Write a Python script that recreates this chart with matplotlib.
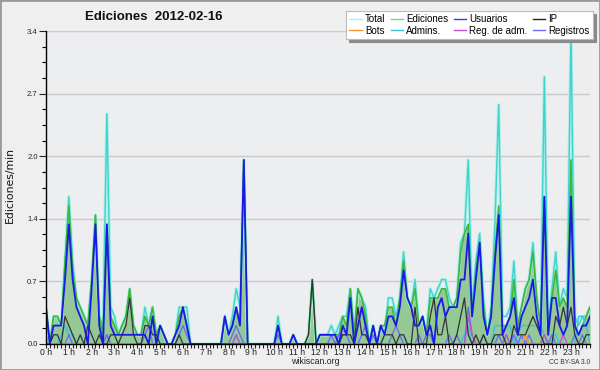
import matplotlib
matplotlib.use('Agg')
import matplotlib.pyplot as plt
from matplotlib.lines import Line2D
from matplotlib.patches import Rectangle
import numpy as np

hour_labels = [f"{h} h" for h in range(24)]
y_tick_labels = ["0.0", "0.7", "1.4", "2.0", "2.7", "3.4"]
series_names = ["Total", "Bots", "Ediciones", "Admins.", "Usuarios", "Reg. de adm.", "IP", "Registros"]

# values per 10-minute bin (6 per hour), 144 bins
total = [0.4, 0, 0.3, 0.3, 0.2, 0.9,   1.6, 0.9, 0.5, 0.4, 0.3, 0.2,
         0.7, 1.4, 0.3, 0.2, 2.5, 0.4, 0.3, 0.1, 0.2, 0.3, 0.6, 0.2,
         0.1, 0.1, 0.4, 0.2, 0.4, 0.1, 0.2, 0.1, 0, 0, 0.1, 0.4,
         0.4, 0.4, 0, 0, 0, 0, 0, 0, 0, 0, 0, 0.3,
         0.1, 0.3, 0.6, 0.4, 2.0, 0, 0, 0, 0, 0, 0, 0,
         0, 0.3, 0, 0, 0, 0.1, 0, 0, 0, 0.1, 0.7, 0,
         0.1, 0.1, 0.1, 0.2, 0.1, 0.2, 0.3, 0.3, 0.6, 0.1, 0.6, 0.5,
         0.4, 0, 0.2, 0, 0.2, 0.1, 0.5, 0.5, 0.3, 0.5, 1.0, 0.5,
         0.4, 0.7, 0.2, 0.3, 0.1, 0.6, 0.5, 0.6, 0.7, 0.7, 0.5, 0.4,
         0.5, 1.1, 1.2, 2.0, 0.4, 0.9, 1.2, 0.5, 0.1, 0.4, 1.3, 2.6,
         0.3, 0.3, 0.4, 0.9, 0.2, 0.4, 0.6, 0.7, 1.1, 0.5, 0.2, 2.9,
         0.2, 0.6, 1.0, 0.4, 0.6, 0.5, 3.4, 0.3, 0.2, 0.3, 0.3, 0.4]

ediciones = [0.4, 0, 0.3, 0.3, 0.2, 0.9,   1.5, 0.8, 0.5, 0.4, 0.3, 0.2,
             0.7, 1.4, 0.3, 0.1, 1.3, 0.3, 0.2, 0.1, 0.2, 0.3, 0.6, 0.2,
             0.1, 0.1, 0.3, 0.2, 0.4, 0.1, 0.2, 0.1, 0, 0, 0.1, 0.3,
             0.4, 0.2, 0, 0, 0, 0, 0, 0, 0, 0, 0, 0.3,
             0.1, 0.2, 0.4, 0.2, 2.0, 0, 0, 0, 0, 0, 0, 0,
             0, 0.2, 0, 0, 0, 0.1, 0, 0, 0, 0.1, 0.7, 0,
             0.1, 0.1, 0.1, 0.1, 0.1, 0.1, 0.3, 0.2, 0.6, 0.1, 0.6, 0.5,
             0.3, 0, 0.2, 0, 0.2, 0.2, 0.4, 0.4, 0.2, 0.5, 0.9, 0.5,
             0.4, 0.6, 0.2, 0.3, 0.1, 0.5, 0.5, 0.5, 0.6, 0.6, 0.4, 0.4,
             0.5, 1.0, 1.2, 1.3, 0.3, 0.8, 1.1, 0.4, 0.1, 0.3, 1.0, 1.5,
             0.2, 0.2, 0.3, 0.7, 0.2, 0.4, 0.6, 0.7, 1.0, 0.5, 0.2, 1.6,
             0.1, 0.5, 0.8, 0.4, 0.5, 0.4, 2.0, 0.2, 0.1, 0.2, 0.3, 0.4]

usuarios = [0.4, 0, 0.2, 0.2, 0.2, 0.7,   1.3, 0.7, 0.4, 0.3, 0.2, 0,
            0.6, 1.3, 0.2, 0, 1.3, 0.2, 0.1, 0.1, 0.1, 0.1, 0.1, 0.1,
            0.1, 0.1, 0.1, 0, 0.3, 0, 0.2, 0.1, 0, 0, 0.1, 0.2,
            0.4, 0.2, 0, 0, 0, 0, 0, 0, 0, 0, 0, 0.3,
            0.1, 0.2, 0.4, 0.2, 2.0, 0, 0, 0, 0, 0, 0, 0,
            0, 0.2, 0, 0, 0, 0.1, 0, 0, 0, 0, 0, 0,
            0.1, 0.1, 0.1, 0.1, 0.1, 0, 0.2, 0.1, 0.5, 0, 0.2, 0.4,
            0.2, 0, 0.2, 0, 0.2, 0.1, 0.3, 0.3, 0.2, 0.4, 0.8, 0.5,
            0.4, 0.2, 0.2, 0.3, 0.1, 0.2, 0, 0.4, 0.5, 0.3, 0.4, 0.4,
            0.4, 0.7, 0.7, 1.2, 0.3, 0.7, 1.1, 0.3, 0.1, 0.3, 0.9, 1.4,
            0.1, 0.2, 0.3, 0.5, 0.1, 0.3, 0.4, 0.5, 0.7, 0.3, 0.1, 1.6,
            0.1, 0.5, 0.5, 0.2, 0.1, 0.2, 1.6, 0.2, 0.1, 0.2, 0.2, 0.3]

ip = [0, 0, 0.1, 0.1, 0, 0.3,   0.2, 0.1, 0, 0.1, 0, 0.2,
      0.1, 0, 0.1, 0, 0, 0.1, 0.1, 0, 0.1, 0.2, 0.5, 0.1,
      0, 0, 0.2, 0.2, 0.1, 0.1, 0, 0, 0, 0, 0, 0.1,
      0, 0, 0, 0, 0, 0, 0, 0, 0, 0, 0, 0,
      0, 0, 0, 0, 0, 0, 0, 0, 0, 0, 0, 0,
      0, 0, 0, 0, 0, 0, 0, 0, 0, 0.1, 0.7, 0,
      0, 0, 0, 0, 0, 0, 0.1, 0.1, 0.1, 0, 0.4, 0.1,
      0.1, 0, 0, 0, 0, 0.1, 0.1, 0.1, 0, 0.1, 0.1, 0,
      0, 0.4, 0, 0, 0, 0.3, 0.5, 0.1, 0.1, 0.3, 0, 0,
      0.1, 0.3, 0.5, 0.1, 0, 0.1, 0, 0.1, 0, 0, 0.1, 0.1,
      0.1, 0, 0, 0.2, 0.1, 0.1, 0.1, 0.2, 0.3, 0.2, 0.1, 0,
      0, 0, 0.3, 0.2, 0.4, 0.2, 0.4, 0.1, 0, 0, 0.1, 0.1]

bots = [0] * 126 + [0.1] + [0] * 17

admins = [0, 0, 0, 0, 0.1, 0.2,   0.1, 0.1, 0, 0, 0, 0,
          0, 0, 0, 0, 0.1, 0, 0, 0, 0, 0, 0, 0,
          0, 0, 0, 0, 0, 0, 0, 0, 0, 0, 0, 0,
          0, 0, 0, 0, 0, 0, 0, 0, 0, 0, 0, 0,
          0, 0, 0.1, 0, 0, 0, 0, 0, 0, 0, 0, 0,
          0, 0, 0, 0, 0, 0, 0, 0, 0, 0, 0, 0,
          0, 0, 0, 0, 0, 0, 0, 0, 0, 0, 0, 0,
          0, 0, 0, 0, 0, 0, 0, 0, 0, 0, 0, 0,
          0, 0, 0, 0, 0, 0, 0, 0, 0, 0, 0, 0,
          0, 0, 0.1, 0.2, 0, 0, 0, 0, 0, 0, 0.2, 0.2,
          0.2, 0.2, 0.2, 0, 0.1, 0.2, 0.2, 0.2, 0.2, 0.2, 0.2, 0.1,
          0, 0.1, 0.1, 0, 0, 0, 0, 0, 0.3, 0.3, 0.2, 0]

reg_adm = [0] * 144
for _i, _v in [(50, 0.1), (111, 0.3), (112, 0.1), (121, 0.1), (131, 0.1), (136, 0.1)]:
    reg_adm[_i] = _v

registros = [0, 0, 0, 0, 0, 0,   0.1, 0, 0, 0, 0, 0,
             0, 0, 0, 0, 0.1, 0, 0, 0, 0, 0, 0, 0,
             0, 0, 0.1, 0.2, 0, 0, 0, 0, 0, 0, 0, 0.1,
             0.2, 0.1, 0, 0, 0, 0, 0, 0, 0, 0, 0, 0,
             0, 0.1, 0.2, 0.1, 0, 0, 0, 0, 0, 0, 0, 0,
             0, 0.1, 0, 0, 0, 0, 0, 0, 0, 0, 0, 0,
             0, 0, 0, 0.1, 0, 0.1, 0.1, 0.1, 0, 0, 0, 0.1,
             0.2, 0, 0.1, 0, 0, 0, 0, 0.1, 0.2, 0.1, 0, 0,
             0, 0, 0.1, 0, 0.1, 0.1, 0, 0, 0, 0, 0.1, 0,
             0.1, 0, 0, 0.4, 0.1, 0, 0, 0.1, 0, 0, 0, 0.1,
             0, 0.1, 0, 0.1, 0, 0.1, 0, 0.1, 0, 0, 0, 0.1,
             0, 0.1, 0, 0, 0, 0, 0, 0.1, 0, 0.1, 0, 0]

x = np.arange(len(total))

fig = plt.figure(figsize=(6, 3.7), dpi=100, facecolor='#efefef')
fig.patches.append(Rectangle((0, 0), 1, 1, transform=fig.transFigure, fill=False,
                             edgecolor='#9a9a9a', lw=2.0, zorder=0))
ax = fig.add_axes([46/600, 26/370, 544/600, 313/370])
ax.set_facecolor('#edeef0')

c_total = '#3fd3c9'
c_edic = '#3cb83c'
c_user = '#1a1ae6'
c_ip = '#333333'
c_bots = '#ff9a2a'
c_admin = '#35c4e0'
c_regadm = '#c94fd8'
c_reg = '#6b6bff'

ax.fill_between(x, ediciones, color='#94c894', lw=0, zorder=2)
ax.plot(x, total, color='#b5eeea', lw=2.4, zorder=3)
ax.plot(x, total, color=c_total, lw=1.0, zorder=3.1)
ax.plot(x, ediciones, color=c_edic, lw=1.2, zorder=4)
ax.plot(x, admins, color=c_admin, lw=1.0, zorder=4.5)
ax.plot(x, registros, color=c_reg, lw=1.0, zorder=5)
ax.plot(x, reg_adm, color=c_regadm, lw=1.0, zorder=5.2)
ax.plot(x, bots, color=c_bots, lw=1.0, zorder=5.3)
ax.plot(x, ip, color=c_ip, lw=0.9, zorder=5.5)
ax.plot(x, usuarios, color=c_user, lw=1.3, zorder=6)

ax.set_xlim(0, 143)
ax.set_ylim(0, 3.4)
ax.set_yticks(np.linspace(0, 3.4, 6))
ax.set_yticklabels(y_tick_labels)
ax.set_yticks(np.arange(0, 3.41, 0.17), minor=True)
ax.set_xticks(np.arange(0, 144, 6))
ax.set_xticklabels(hour_labels)
ax.set_xticks(np.arange(0, 144, 1), minor=True)
ax.grid(axis='y', which='major', color='#cacaca', lw=1.0)
ax.set_axisbelow(True)
for s in ['top', 'right']:
    ax.spines[s].set_visible(False)
for s in ['left', 'bottom']:
    ax.spines[s].set_color('black')
    ax.spines[s].set_linewidth(1.0)
    ax.spines[s].set_zorder(10)
ax.tick_params(axis='y', which='major', length=5, width=0.8, labelsize=5.5, pad=1, colors='#222222')
ax.tick_params(axis='y', which='minor', length=3, width=0.8)
ax.tick_params(axis='x', which='both', length=3, width=0.8, labelsize=6.2, pad=0, colors='#222222')

fam = ['Liberation Sans', 'DejaVu Sans']
for lab in ax.get_xticklabels() + ax.get_yticklabels():
    lab.set_family(fam)

fig.text(154/600, 1 - 17/370, 'Ediciones  2012-02-16', ha='center', va='center',
         fontsize=9.5, fontweight='bold', family=fam, color='#111111')
fig.text(10/600, 1 - 185/370, 'Ediciones/min', rotation=90, ha='center', va='center',
         fontsize=7.8, family=['DejaVu Sans'], color='#111111')
fig.text(315/600, 1 - 362/370, 'wikiscan.org', ha='center', va='center',
         fontsize=6.3, family=fam, color='#222222')
fig.text(570/600, 1 - 362/370, 'CC BY-SA 3.0', ha='center', va='center',
         fontsize=4.8, family=fam, color='#333333')

leg_colors = ['#b0eeee', c_bots, '#88cc88', c_admin, '#3a3ae0', c_regadm, '#222222', c_reg]
handles = [Line2D([0], [0], color=c, lw=1.0) for c in leg_colors]
leg = fig.legend(handles, series_names, ncol=4, loc='upper left',
                 bbox_to_anchor=(346/600, 1 - 11/370), frameon=True, fancybox=False,
                 shadow={'color': '#8a8a8a', 'alpha': 1.0},
                 prop={'family': fam, 'size': 7.0}, handlelength=1.25, handletextpad=0.35,
                 columnspacing=0.55, labelspacing=0.15, borderpad=0.35, borderaxespad=0)
leg.get_frame().set_edgecolor('#bbbbbb')
leg.get_frame().set_linewidth(0.8)
leg.set_zorder(20)

fig.savefig('out.png', dpi=100, facecolor=fig.get_facecolor())
